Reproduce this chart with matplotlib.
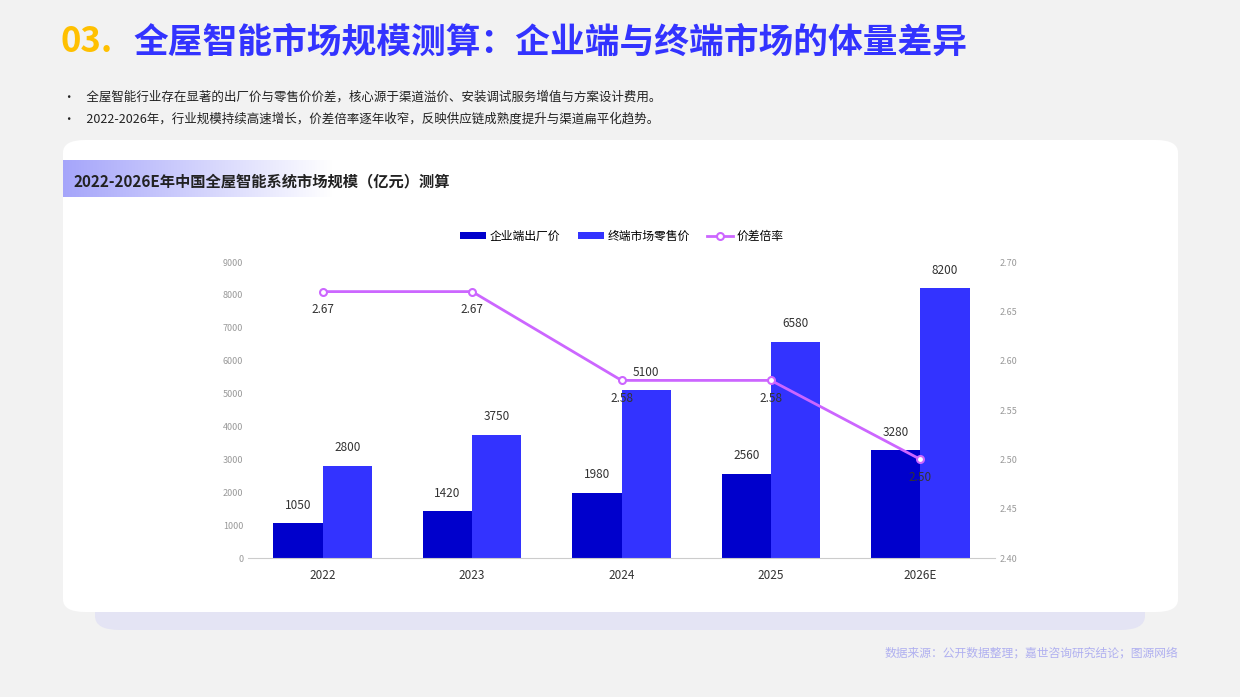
import matplotlib
matplotlib.use('Agg')
import matplotlib.pyplot as plt
from matplotlib.patches import FancyBboxPatch
from matplotlib.colors import LinearSegmentedColormap
import numpy as np

plt.rcParams['font.family'] = ['Noto Sans CJK SC', 'DejaVu Sans']

years = ['2022', '2023', '2024', '2025', '2026E']
factory = [1050, 1420, 1980, 2560, 3280]
retail = [2800, 3750, 5100, 6580, 8200]
ratio = [2.67, 2.67, 2.58, 2.58, 2.50]

c_dark = '#0000CC'
c_blue = '#3333FF'
c_line = '#CC66FF'

fig = plt.figure(figsize=(12.4, 6.97), dpi=100)
fig.patch.set_facecolor('#F2F2F2')

# shadow + card (behind the axes)
sh = FancyBboxPatch((95/1240, 1-630/697), 1050/1240, 40/697, boxstyle='round,pad=0,rounding_size=0.02',
                    transform=fig.transFigure, facecolor='#E4E4F4', edgecolor='none', zorder=-3)
fig.patches.append(sh)
card = FancyBboxPatch((63/1240, 1-612/697), 1115/1240, 472/697, boxstyle='round,pad=0,rounding_size=0.018',
                      transform=fig.transFigure, facecolor='white', edgecolor='none', zorder=-2)
fig.patches.append(card)

# gradient title band
gax = fig.add_axes([63/1240, 1-197/697, 270/1240, 37/697])
grad = np.linspace(0, 1, 256).reshape(1, -1)
cm = LinearSegmentedColormap.from_list('g', ['#A5A5FA', '#FFFFFF'])
gax.imshow(grad, aspect='auto', cmap=cm)
gax.axis('off')

fig.text(60/1240, 1-42/697, '03.', color='#FFC000', fontsize=25, fontweight='heavy', va='center')
fig.text(133/1240, 1-42/697, '全屋智能市场规模测算：企业端与终端市场的体量差异', color='#3333FF',
         fontsize=25, fontweight='heavy', va='center')
fig.text(63/1240, 1-97/697, '•    全屋智能行业存在显著的出厂价与零售价价差，核心源于渠道溢价、安装调试服务增值与方案设计费用。',
         fontsize=9, color='#222222', va='center')
fig.text(63/1240, 1-119/697, '•    2022-2026年，行业规模持续高速增长，价差倍率逐年收窄，反映供应链成熟度提升与渠道扁平化趋势。',
         fontsize=9, color='#222222', va='center')
fig.text(73/1240, 1-181/697, '2022-2026E年中国全屋智能系统市场规模（亿元）测算', fontsize=11,
         fontweight='bold', color='#222222', va='center')
fig.text(1178/1240, 1-653/697, '数据来源：公开数据整理；嘉世咨询研究结论；图源网络', fontsize=8.5,
         color='#B0B0F0', ha='right', va='center')

ax = fig.add_axes([248/1240, 1-558/697, 747/1240, 296/697])
ax.set_facecolor('none')
x = np.arange(len(years))
w = 0.33
b1 = ax.bar(x - w/2, factory, w, color=c_dark, label='企业端出厂价', zorder=2)
b2 = ax.bar(x + w/2, retail, w, color=c_blue, label='终端市场零售价', zorder=2)
for xi, v in zip(x, factory):
    ax.text(xi - w/2, v + 350, str(v), ha='center', va='bottom', fontsize=8.5, color='#333333')
for xi, v in zip(x, retail):
    ax.text(xi + w/2, v + 350, str(v), ha='center', va='bottom', fontsize=8.5, color='#333333')
ax.set_xlim(-0.5, 4.5)
ax.set_ylim(0, 9000)
ax.set_yticks(range(0, 9001, 1000))
ax.set_xticks(x)
ax.set_xticklabels(years)
ax.tick_params(axis='y', labelsize=6.5, colors='#999999', length=0)
ax.tick_params(axis='x', labelsize=8.5, colors='#333333', length=0, pad=8)
for s in ['top', 'right', 'left']:
    ax.spines[s].set_visible(False)
ax.spines['bottom'].set_color('#CCCCCC')

ax2 = ax.twinx()
ln, = ax2.plot(x, ratio, color=c_line, lw=2, marker='o', ms=5, mfc='white', mec=c_line, mew=1.5,
               label='价差倍率', zorder=3)
for xi, v in zip(x, ratio):
    ax2.text(xi, v - 0.012, f'{v:.2f}', ha='center', va='top', fontsize=8.5, color='#333333')
ax2.set_ylim(2.40, 2.70)
ax2.set_yticks(np.arange(2.40, 2.701, 0.05))
ax2.set_yticklabels([f'{t:.2f}' for t in np.arange(2.40, 2.701, 0.05)])
ax2.tick_params(axis='y', labelsize=6.5, colors='#999999', length=0)
for s in ['top', 'right', 'left', 'bottom']:
    ax2.spines[s].set_visible(False)

fig.legend(handles=[b1, b2, ln], loc='center', bbox_to_anchor=(622/1240, 1-236/697), ncol=3,
           frameon=False, fontsize=8.5, handlelength=2.2, handleheight=0.6, columnspacing=1.5,
           handletextpad=0.3)

fig.savefig('out.png', dpi=100, facecolor=fig.get_facecolor())
